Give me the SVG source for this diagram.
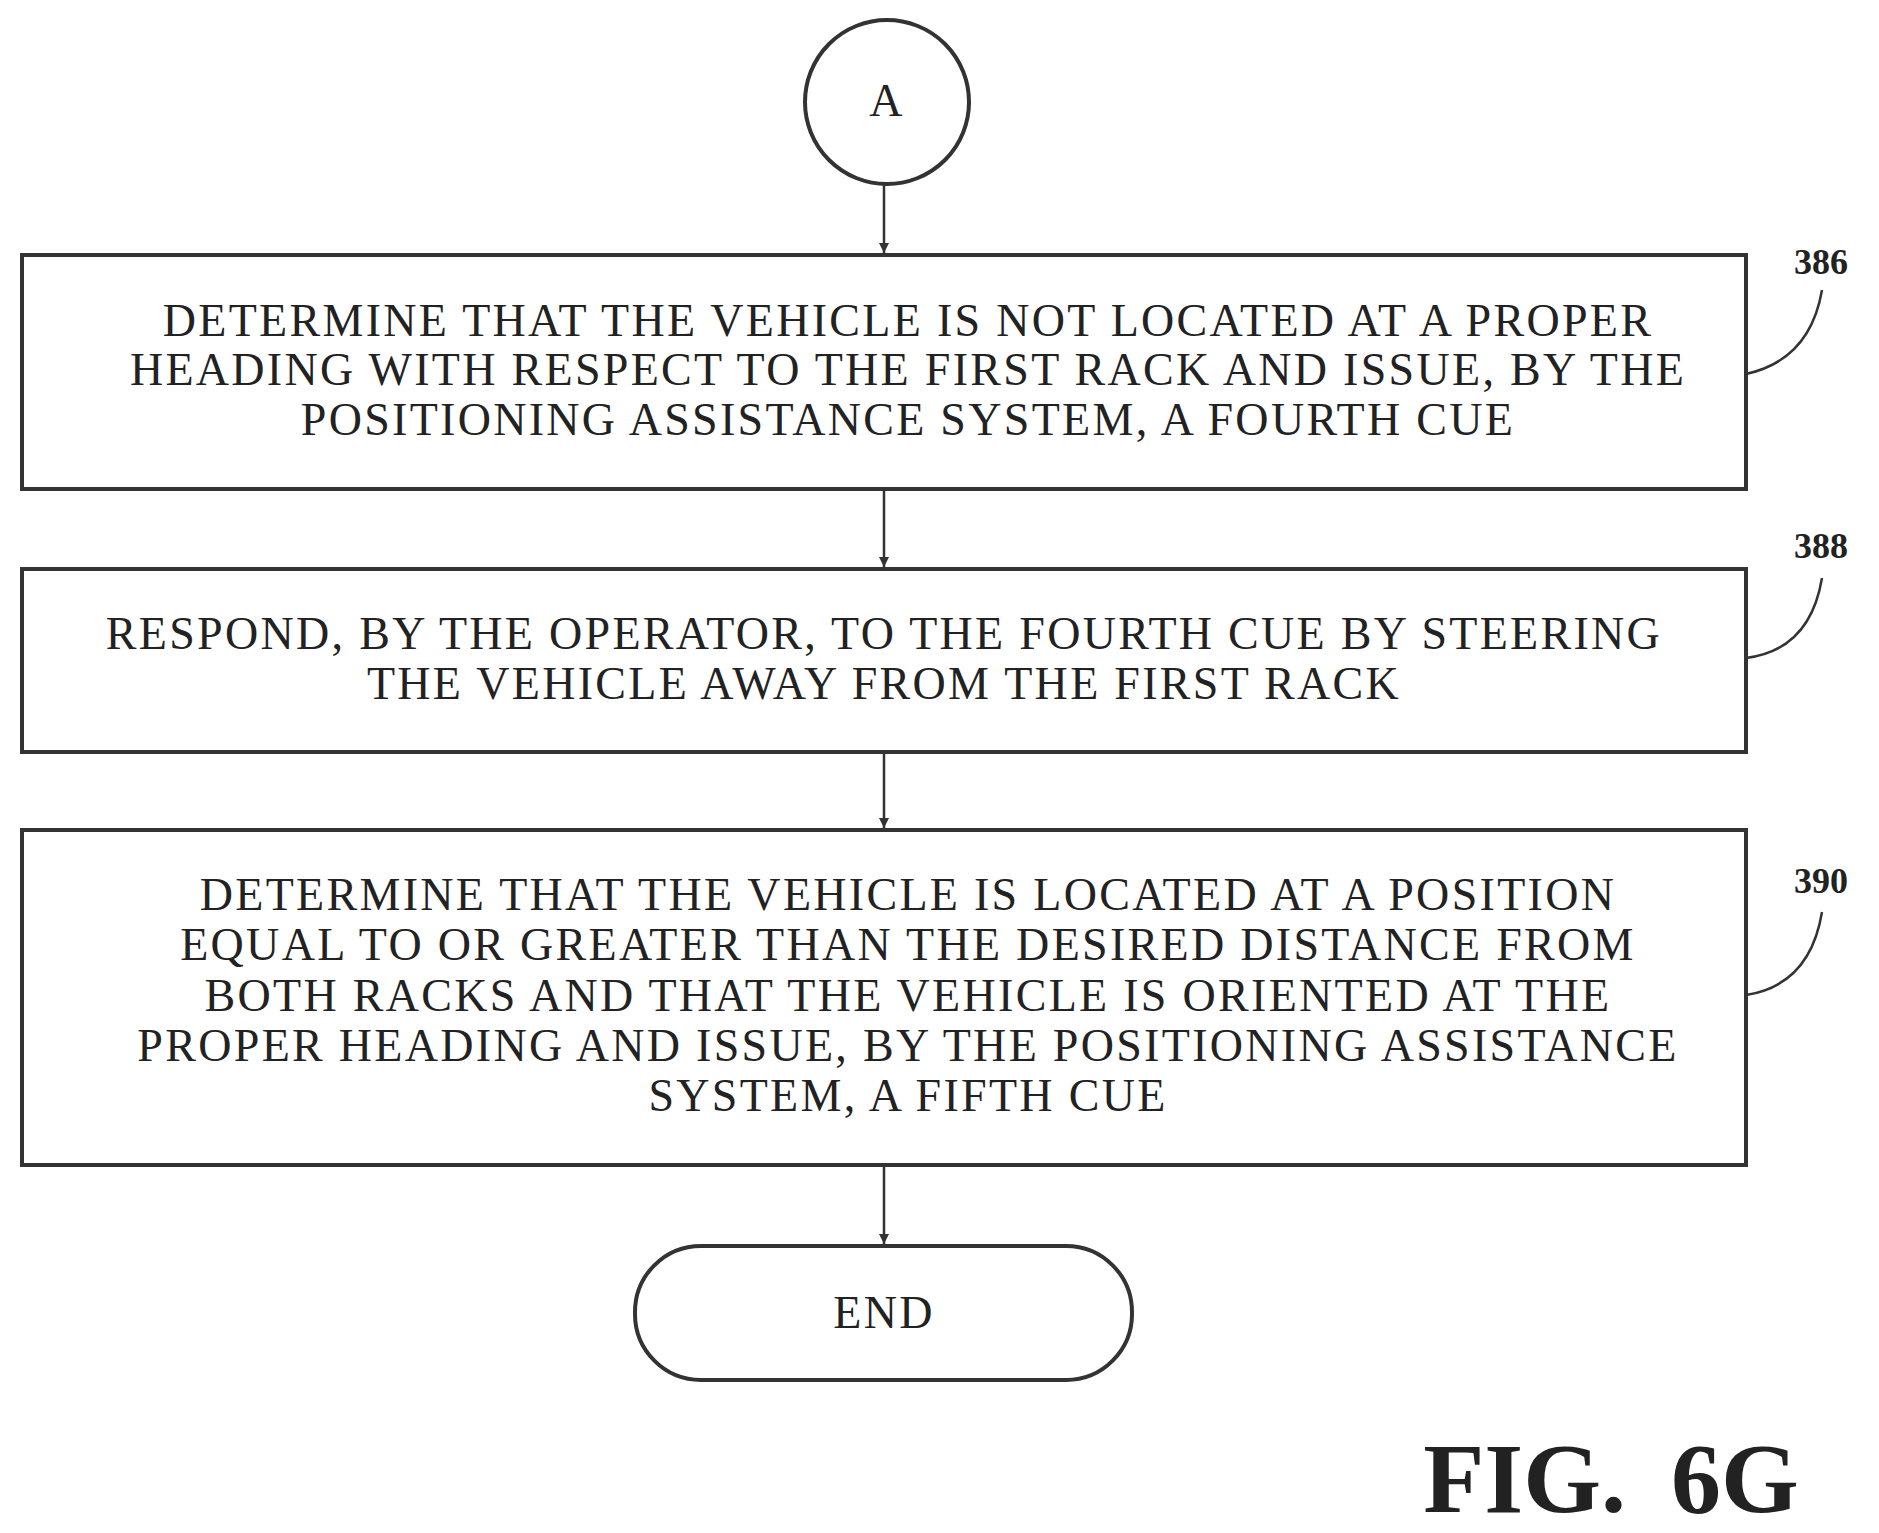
<svg xmlns="http://www.w3.org/2000/svg" width="1879" height="1533" viewBox="0 0 1879 1533">
<style>
.b{fill:none;stroke:#333;stroke-width:4}
.t{font-family:"Liberation Serif",serif;font-size:46px;letter-spacing:2.3px;fill:#222;text-anchor:middle}
.l{font-family:"Liberation Serif",serif;font-size:36px;font-weight:bold;fill:#222;text-anchor:middle}
.c{fill:none;stroke:#333;stroke-width:2.5}
</style>
<defs><marker id="ar" markerWidth="12" markerHeight="12" refX="10" refY="5" orient="auto" markerUnits="userSpaceOnUse"><path d="M0,0 L10,5 L0,10 Z" fill="#333"/></marker></defs>
<rect width="1879" height="1533" fill="#fff"/>
<g id="connectors">
<line class="c" x1="884" y1="184" x2="884" y2="253" marker-end="url(#ar)"/>
<line class="c" x1="884" y1="491" x2="884" y2="567" marker-end="url(#ar)"/>
<line class="c" x1="884" y1="754" x2="884" y2="828" marker-end="url(#ar)"/>
<line class="c" x1="884" y1="1167" x2="884" y2="1244" marker-end="url(#ar)"/>
<path class="c" d="M1746,374 Q1810,360 1822,290"/>
<path class="c" d="M1746,658 Q1810,650 1822,578"/>
<path class="c" d="M1746,995 Q1810,985 1822,912"/>
</g>
<g id="A"><circle class="b" cx="887" cy="102" r="82"/><text class="t" x="887" y="116">A</text></g>
<g id="n386"><rect class="b" x="22" y="255" width="1724" height="234"/>
<text class="t" x="908" y="336">DETERMINE THAT THE VEHICLE IS NOT LOCATED AT A PROPER</text>
<text class="t" x="908" y="385">HEADING WITH RESPECT TO THE FIRST RACK AND ISSUE, BY THE</text>
<text class="t" x="908" y="435">POSITIONING ASSISTANCE SYSTEM, A FOURTH CUE</text>
<text class="l" x="1821" y="274">386</text></g>
<g id="n388"><rect class="b" x="22" y="569" width="1724" height="183"/>
<text class="t" x="884" y="649">RESPOND, BY THE OPERATOR, TO THE FOURTH CUE BY STEERING</text>
<text class="t" x="884" y="699">THE VEHICLE AWAY FROM THE FIRST RACK</text>
<text class="l" x="1821" y="558">388</text></g>
<g id="n390"><rect class="b" x="22" y="830" width="1724" height="335"/>
<text class="t" x="908" y="910">DETERMINE THAT THE VEHICLE IS LOCATED AT A POSITION</text>
<text class="t" x="908" y="960">EQUAL TO OR GREATER THAN THE DESIRED DISTANCE FROM</text>
<text class="t" x="908" y="1011">BOTH RACKS AND THAT THE VEHICLE IS ORIENTED AT THE</text>
<text class="t" x="908" y="1061">PROPER HEADING AND ISSUE, BY THE POSITIONING ASSISTANCE</text>
<text class="t" x="908" y="1111">SYSTEM, A FIFTH CUE</text>
<text class="l" x="1821" y="893">390</text></g>
<g id="end"><rect class="b" x="635" y="1246" width="497" height="134" rx="66"/><text class="t" x="884" y="1328">END</text></g>
<text x="1611" y="1512" style="font-family:'Liberation Serif',serif;font-size:100px;font-weight:bold;fill:#222;text-anchor:middle;word-spacing:20px">FIG. 6G</text>
</svg>
